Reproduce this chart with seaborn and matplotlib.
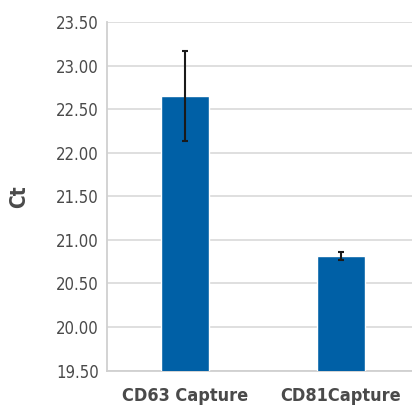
import matplotlib
matplotlib.use('Agg')
import matplotlib.pyplot as plt
import seaborn as sns
import pandas as pd

# Dados do gráfico
categorias = ['CD63 Capture', 'CD81Capture']
valores_ct = [22.65, 20.81]
erros_ct = [0.52, 0.045]
ticks_y = [19.5, 20.0, 20.5, 21.0, 21.5, 22.0, 22.5, 23.0, 23.5]

df = pd.DataFrame({'categoria': categorias, 'ct': valores_ct})

sns.set_theme(style='white')
plt.rcParams['font.family'] = ['DejaVu Sans']
plt.rcParams['font.stretch'] = 'condensed'

fig = plt.figure(figsize=(4.12, 4.12), dpi=100)
W = H = 412.0
ax = fig.add_axes([107 / W, 1 - 370.5 / H, 312 / W, 348.5 / H])

sns.barplot(data=df, x='categoria', y='ct', color='#0060a6', width=0.31,
            saturation=1, ax=ax, zorder=3)
ax.errorbar(range(len(categorias)), valores_ct, yerr=erros_ct, fmt='none',
            ecolor='#1a1a1a', elinewidth=1.5, capsize=2.5, capthick=1.5, zorder=4)

ax.set_ylim(19.5, 23.5)
ax.set_xlim(-0.5, 1.5)
ax.set_yticks(ticks_y)
ax.set_yticklabels([f'{t:.2f}' for t in ticks_y])
ax.yaxis.grid(True, color='#dcdcdc', linewidth=1.3, zorder=0)
ax.set_axisbelow(True)

for s in ['top', 'right']:
    ax.spines[s].set_visible(False)
for s in ['left', 'bottom']:
    ax.spines[s].set_color('#d0d0d0')
    ax.spines[s].set_linewidth(1.3)

ax.tick_params(axis='y', length=0, pad=6, labelsize=12, labelcolor='#4a4a4a')
ax.tick_params(axis='x', length=0, pad=12, labelsize=13, labelcolor='#4a4a4a')
for lbl in ax.get_xticklabels():
    lbl.set_fontweight('bold')

ax.set_xlabel('')
ax.set_ylabel('Ct', fontsize=15, fontweight='bold', color='#4a4a4a', labelpad=19)

fig.savefig('out.png', dpi=100)
